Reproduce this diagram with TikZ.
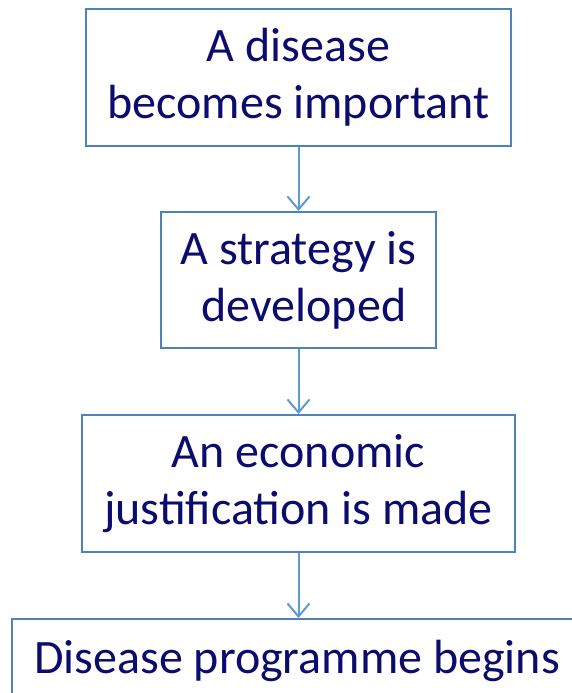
\documentclass[tikz,border=0pt]{standalone}
\usepackage{fontspec}
\setmainfont{Carlito}
\usetikzlibrary{arrows.meta}
\definecolor{boxblue}{RGB}{79,129,189}
\definecolor{arrblue}{RGB}{91,155,213}
\definecolor{txtnavy}{RGB}{12,12,110}
\begin{document}
\begin{tikzpicture}[x=1pt,y=-1pt,
  flowbox/.style={draw=boxblue,line width=2pt,inner sep=0pt,text=txtnavy,align=center,
    font=\fontsize{48}{57}\selectfont},
  flowarrow/.style={draw=arrblue,line width=2pt,-{Straight Barb[length=13pt,width=22pt,line width=2pt]}}]
\useasboundingbox (0,0) rectangle (572,693);
\begin{scope}
\clip (0,0) rectangle (572,693);
\node[flowbox,minimum width=425pt,minimum height=137pt] (b1) at (298.5,77.5) {A disease\\becomes important};
\node[flowbox,minimum width=275pt,minimum height=136pt] (b2) at (298.5,280) {A strategy is\\\hspace*{0.226em}developed};
\node[flowbox,minimum width=433pt,minimum height=137pt] (b3) at (298.5,483.5) {An economic\\justification is made};
\node[flowbox,minimum width=573pt,minimum height=137pt] (b4) at (298.5,687.5) {};
\node[text=txtnavy,font=\fontsize{48}{57}\selectfont,anchor=base] (t4) at (297,673) {Disease programme begins};
\draw[flowarrow] (b1.south) -- (b2.north);
\draw[flowarrow] (b2.south) -- (b3.north);
\draw[flowarrow] (b3.south) -- (b4.north);
\end{scope}
\end{tikzpicture}
\end{document}
